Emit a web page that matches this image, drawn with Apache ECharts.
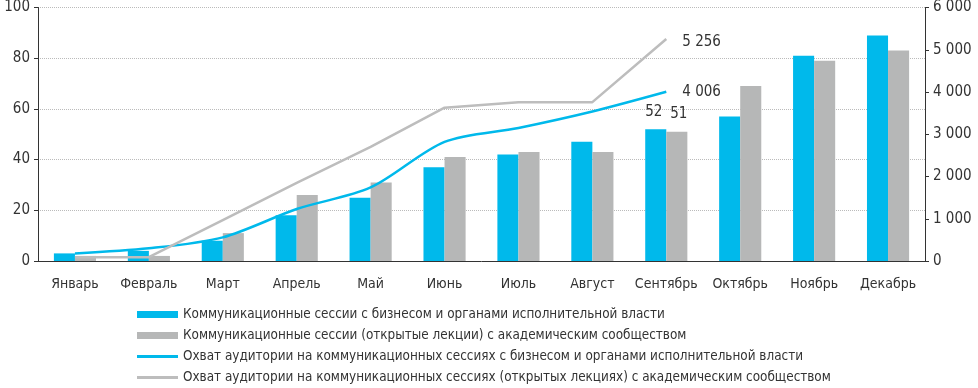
<!DOCTYPE html>
<html><head><meta charset="utf-8">
<script src="https://cdn.jsdelivr.net/npm/echarts@6/dist/echarts.min.js"></script>
<style>html,body{margin:0;padding:0;background:#fff}#c{width:978px;height:388px}</style>
</head><body><div id="c"></div>
<script>
const months = ['Январь','Февраль','Март','Апрель','Май','Июнь','Июль','Август','Сентябрь','Октябрь','Ноябрь','Декабрь'];
const businessSessions = [3,4,8,18,25,37,42,47,52,57,81,89];
const academicSessions = [2,2,11,26,31,41,43,43,51,69,79,83];
const businessReach = [180,300,560,1230,1740,2820,3150,3540,4006,'-','-','-'];
const academicReach = [90,90,970,1850,2700,3630,3760,3760,5256,'-','-','-'];
const seriesNames = [
 'Коммуникационные сессии с бизнесом и органами исполнительной власти',
 'Коммуникационные сессии (открытые лекции) с академическим сообществом',
 'Охват аудитории на коммуникационных сессиях с бизнесом и органами исполнительной власти',
 'Охват аудитории на коммуникационных сессиях (открытых лекциях) с академическим сообществом'
];
const leftTicks = {min:0,max:100,interval:20};
const rightTicks = {min:0,max:6000,interval:1000};

const FONT = '"Liberation Sans Narrow","DejaVu Sans Condensed","Noto Sans",sans-serif';
const BLUE = '#00b9eb', GRAY = '#b6b7b7', LGRAY = '#bdbdbd';
const fmt = v => String(v).replace(/\B(?=(\d{3})+(?!\d))/g,' ');
const lastIdx = 8;
const lineIcon = 'path://M0,0H41V3H0Z';

const chart = echarts.init(document.getElementById('c'));
chart.setOption({
  animation:false,
  textStyle:{fontFamily:FONT,color:'#333'},
  grid:{left:38,right:53,top:7,bottom:127},
  legend:{
    orient:'vertical',left:132,top:303,height:90,itemGap:8,itemWidth:41,itemHeight:7,
    textStyle:{fontFamily:FONT,fontSize:13.4,color:'#333'},
    data:[
      {name:seriesNames[0],icon:'rect'},
      {name:seriesNames[1],icon:'rect'},
      {name:seriesNames[2],icon:lineIcon},
      {name:seriesNames[3],icon:lineIcon}
    ]
  },
  xAxis:{
    type:'category',data:months,
    axisLine:{lineStyle:{color:'#333',width:1}},
    axisTick:{length:5,lineStyle:{color:'#333'}},
    axisLabel:{fontFamily:FONT,fontSize:14,color:'#333',margin:16,interval:0}
  },
  yAxis:[
    {type:'value',...leftTicks,
     axisLine:{show:true,lineStyle:{color:'#333'}},
     axisTick:{show:true,length:4,lineStyle:{color:'#333'}},
     axisLabel:{fontFamily:FONT,fontSize:15,color:'#333',margin:8},
     splitLine:{lineStyle:{type:'dotted',color:'#bbb'}}},
    {type:'value',...rightTicks,position:'right',
     axisLine:{show:true,lineStyle:{color:'#333'}},
     axisTick:{show:true,length:4,lineStyle:{color:'#333'}},
     axisLabel:{fontFamily:FONT,fontSize:15,color:'#333',margin:8,formatter:fmt},
     splitLine:{show:false}}
  ],
  series:[
    {name:seriesNames[0],type:'bar',data:businessSessions,barGap:'0%',barCategoryGap:'43%',
     itemStyle:{color:BLUE},
     label:{show:true,position:'top',fontSize:15,color:'#333',distance:10,fontFamily:FONT,offset:[-2,0],
       formatter:p=>p.dataIndex===lastIdx?p.value:''}},
    {name:seriesNames[1],type:'bar',data:academicSessions,
     itemStyle:{color:GRAY},
     label:{show:true,position:'top',fontSize:15,color:'#333',distance:10,fontFamily:FONT,offset:[2,0],
       formatter:p=>p.dataIndex===lastIdx?p.value:''}},
    {name:seriesNames[2],type:'line',yAxisIndex:1,data:businessReach,smooth:0.3,
     showSymbol:false,symbol:'none',lineStyle:{color:BLUE,width:2.5},itemStyle:{color:BLUE},
     endLabel:{show:true,fontSize:15,color:'#333',distance:16,fontFamily:FONT,formatter:p=>fmt(p.value)}},
    {name:seriesNames[3],type:'line',yAxisIndex:1,data:academicReach,
     showSymbol:false,symbol:'none',lineStyle:{color:LGRAY,width:2.5},itemStyle:{color:LGRAY},
     endLabel:{show:true,fontSize:15,color:'#333',distance:16,fontFamily:FONT,offset:[0,3],formatter:p=>fmt(p.value)}}
  ]
});
</script></body></html>
